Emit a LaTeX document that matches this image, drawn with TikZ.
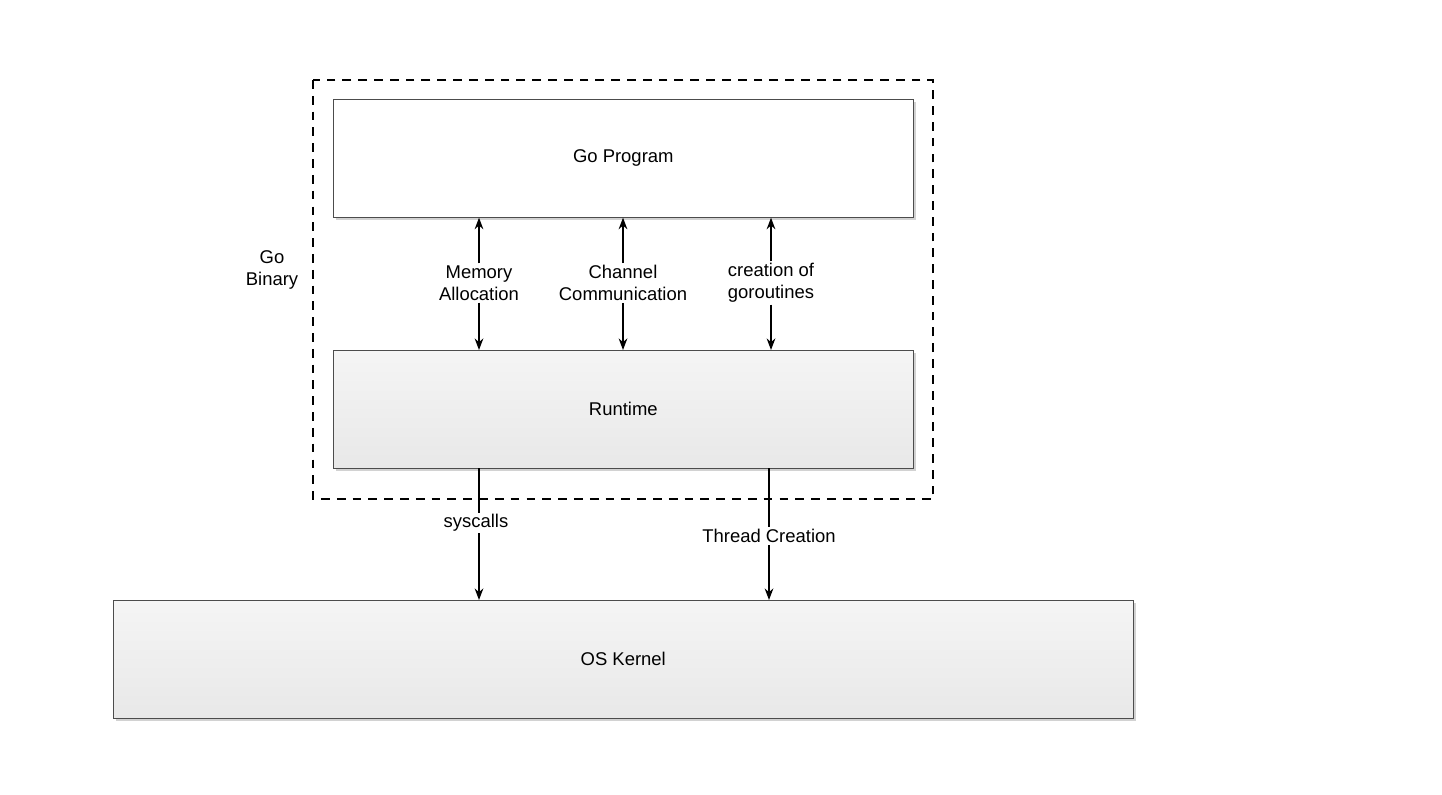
\documentclass[tikz,border=0pt]{standalone}
\usepackage{fontspec}
\setmainfont{Liberation Sans}
\usetikzlibrary{arrows.meta}
\usetikzlibrary{shadows}
\usetikzlibrary{positioning}
\usetikzlibrary{calc}
\tikzset{
  >=Stealth,
  layer/.style={draw=black!70, rectangle, minimum height=2.36cm, drop shadow={shadow xshift=0.6mm, shadow yshift=-0.6mm, fill=black!35}},
  plain/.style={layer, fill=white},
  shaded/.style={layer, top color=white!96!black, bottom color=black!9},
  lbl/.style={font=\fontsize{10.5}{12.5}\selectfont, align=center, inner sep=1pt},
  line/.style={draw, ->, thick}
}
\begin{document}
\begin{tikzpicture}[x=0.02cm, y=-0.02cm]
    \useasboundingbox (0,0) rectangle (1442,794);
    % Binary frame
    \draw[line width=1.6pt, dash pattern=on 5pt off 4pt] (313,80) rectangle (933,499);
    \node[lbl] (binary) at (272,270) {Go\\Binary};

    % Layers
    \node[plain, minimum width=11.6cm, anchor=north west] (program) at (333,99) {};
    \node[lbl] at (program) {Go Program};
    \node[shaded, minimum width=11.6cm, anchor=north west] (runtime) at (333,350) {};
    \node[lbl] at (runtime) {Runtime};
    \node[shaded, minimum width=20.4cm, anchor=north west] (kernel) at (113,600) {};
    \node[lbl] at (kernel) {OS Kernel};

    % Labels between program and runtime
    \node[lbl] (memory) at (479,283) {Memory\\Allocation};
    \node[lbl] (channel) at (623,283) {Channel\\Communication};
    \node[lbl] (goroutines) at (771,283) {creation of\\goroutines};
    \foreach \n in {memory, channel, goroutines} {
      \path[line] (\n.north) -- (\n.north |- program.south);
      \path[line] (\n.south) -- (\n.south |- runtime.north);
    }

    % Runtime to kernel
    \coordinate (sysTop) at (479,468);
    \coordinate (thrTop) at (769,468);
    \path[line] (sysTop) -- (sysTop |- kernel.north);
    \node[lbl, fill=white] (syscalls) at (476,523) {syscalls};
    \path[line] (thrTop) -- (thrTop |- kernel.north);
    \node[lbl, fill=white] (thread) at (769,536) {Thread Creation};
\end{tikzpicture}
\end{document}
